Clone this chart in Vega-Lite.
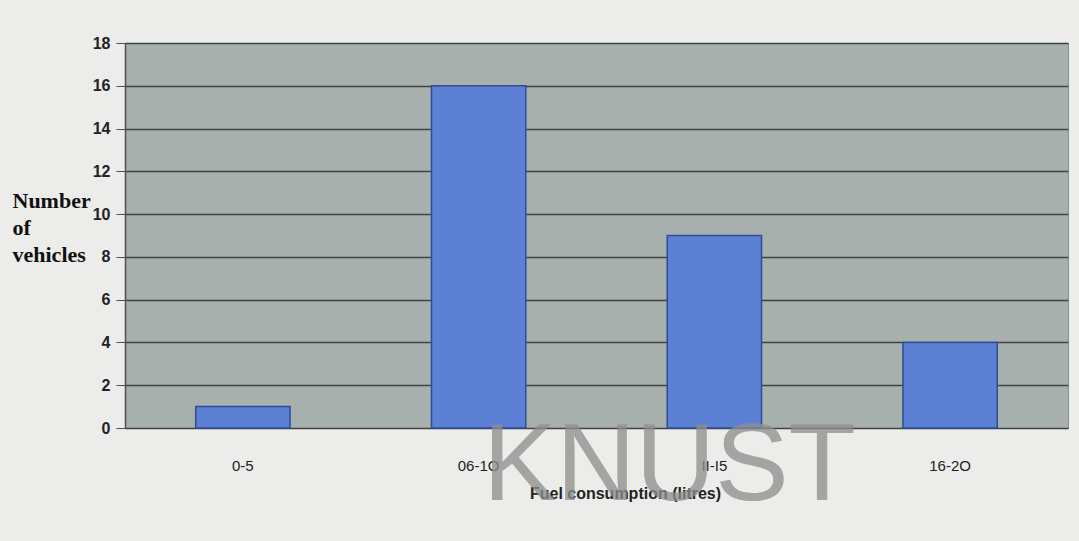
{
  "$schema": "https://vega.github.io/schema/vega-lite/v6.json",
  "width": 943,
  "height": 385,
  "autosize": {"type": "none"},
  "padding": {"left": 125, "top": 43, "right": 11, "bottom": 113},
  "background": "#ececea",
  "config": {
    "view": {"fill": "#a8b0ae", "stroke": "#8a9090", "strokeWidth": 1}
  },
  "data": {
    "values": [
      {"range": "0-5", "vehicles": 1},
      {"range": "06-1O", "vehicles": 16},
      {"range": "II-I5", "vehicles": 9},
      {"range": "16-2O", "vehicles": 4}
    ]
  },
  "layer": [
    {
      "mark": {"type": "bar", "fill": "#5b80d4", "stroke": "#2d4c96", "strokeWidth": 1.5},
      "encoding": {
        "x": {
          "field": "range",
          "type": "nominal",
          "sort": null,
          "scale": {"paddingInner": 0.6, "paddingOuter": 0.3},
          "axis": {
            "labelAngle": 0,
            "labelFont": "Liberation Sans",
            "labelFontSize": 15,
            "labelColor": "#222222",
            "labelPadding": 30,
            "ticks": false,
            "domain": false,
            "title": "Fuel consumption (litres)",
            "titleFont": "Liberation Sans",
            "titleFontSize": 16,
            "titleFontWeight": "bold",
            "titleColor": "#222222",
            "titleX": 500,
            "titleY": 70,
            "titleAlign": "center",
            "titleBaseline": "alphabetic"
          }
        },
        "y": {
          "field": "vehicles",
          "type": "quantitative",
          "scale": {"domain": [0, 18], "nice": false},
          "axis": {
            "values": [0, 2, 4, 6, 8, 10, 12, 14, 16, 18],
            "grid": true,
            "gridColor": "#3c4242",
            "gridWidth": 1.5,
            "gridOpacity": 1,
            "domain": true,
            "domainColor": "#4a5050",
            "domainWidth": 1.5,
            "tickColor": "#4a5050",
            "tickSize": 9,
            "labelFont": "Liberation Sans",
            "labelFontSize": 16,
            "labelFontWeight": "bold",
            "labelColor": "#222222",
            "labelPadding": 6,
            "title": ["Number", "of", "vehicles"],
            "titleFont": "Liberation Serif",
            "titleFontSize": 22,
            "titleFontWeight": "bold",
            "titleColor": "#111111",
            "titleAngle": 0,
            "titleAlign": "left",
            "titleBaseline": "alphabetic",
            "titleLineHeight": 27,
            "titleX": -113,
            "titleY": 164
          }
        }
      }
    },
    {
      "mark": {"type": "text", "text": "KNUST", "font": "Liberation Sans", "fontSize": 110, "fill": "#909090", "fillOpacity": 0.3, "baseline": "middle", "align": "center", "xOffset": -45},
      "encoding": {
        "x": {"datum": "II-I5"},
        "y": {"datum": -1.8}
      }
    }
  ]
}
